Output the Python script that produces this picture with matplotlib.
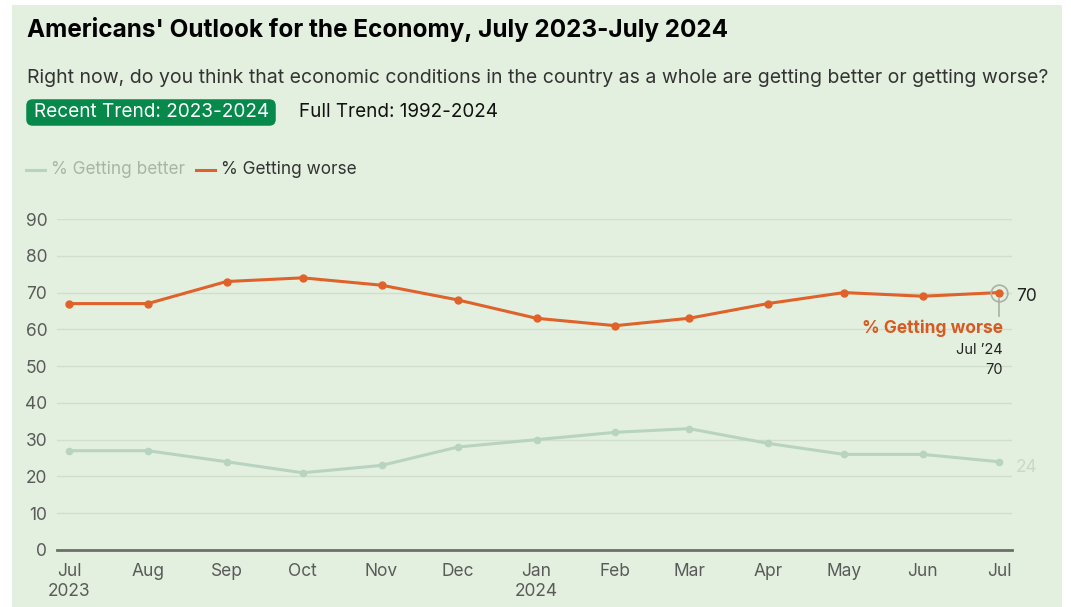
#!/usr/bin/env python3

from datetime import date

import matplotlib.dates as mdates
import matplotlib.pyplot as plt
from matplotlib.patches import FancyBboxPatch, Rectangle

plt.rcParams["font.family"] = ["Inter", "DejaVu Sans"]

months = [
    date(2023, 7, 1), date(2023, 8, 1), date(2023, 9, 1), date(2023, 10, 1),
    date(2023, 11, 1), date(2023, 12, 1), date(2024, 1, 1), date(2024, 2, 1),
    date(2024, 3, 1), date(2024, 4, 1), date(2024, 5, 1), date(2024, 6, 1),
    date(2024, 7, 1),
]
month_labels = [
    "Jul\n2023", "Aug", "Sep", "Oct", "Nov", "Dec", "Jan\n2024",
    "Feb", "Mar", "Apr", "May", "Jun", "Jul",
]
getting_better = [27, 27, 24, 21, 23, 28, 30, 32, 33, 29, 26, 26, 24]
getting_worse = [67, 67, 73, 74, 72, 68, 63, 61, 63, 67, 70, 69, 70]
y_ticks = list(range(0, 100, 10))

W, H = 1071, 607
BG = "#e3f0df"
ORANGE = "#e0622b"
BETTER = "#b8d4c1"
GRID = "#d0dfcc"


def fx(px):
    return px / W


def fy(py):
    return 1 - py / H


fig = plt.figure(figsize=(W / 100, H / 100), dpi=100, facecolor="white")
fig.patches.append(
    Rectangle((fx(12), 0), fx(1062) - fx(12), fy(5), transform=fig.transFigure,
              facecolor=BG, edgecolor="none", zorder=-10)
)

ax = fig.add_axes([fx(57), fy(550), fx(1012) - fx(57), fy(219) - fy(550)])
ax.set_facecolor("none")

ax.plot(months, getting_better, color=BETTER, lw=2.2, marker="o", ms=4.5,
        clip_on=False, zorder=3)
ax.plot(months, getting_worse, color=ORANGE, lw=2.2, marker="o", ms=5,
        clip_on=False, zorder=4)

ax.set_xlim(mdates.date2num(months[0]) - 4.7, mdates.date2num(months[-1]) + 5.1)
ax.set_ylim(0, 90)
ax.set_yticks(y_ticks)
ax.set_xticks(months, month_labels)
ax.grid(axis="y", color=GRID, lw=1.0)
ax.set_axisbelow(True)
for side in ["top", "right", "left"]:
    ax.spines[side].set_visible(False)
ax.spines["bottom"].set_color("#6b6f69")
ax.spines["bottom"].set_linewidth(2)
ax.tick_params(axis="both", length=0, labelsize=12.5, colors="#5a5a5a")
ax.tick_params(axis="y", pad=7)
ax.tick_params(axis="x", pad=9)
for lbl in ax.get_xticklabels():
    lbl.set_linespacing(1.3)

# end-point callouts
last = months[-1]
ax.plot([last], [getting_worse[-1]], marker="o", ms=12, mfc="none",
        mec="#a9b0a8", mew=1.2, clip_on=False, zorder=5)
ax.plot([last, last], [getting_worse[-1] - 1.8, getting_worse[-1] - 6.5],
        color="#a9b0a8", lw=1.2, clip_on=False, zorder=2)
ax.annotate(f"{getting_worse[-1]}", (last, getting_worse[-1]), xytext=(12, -3),
            textcoords="offset points", ha="left", va="center",
            fontsize=12.5, color="#222222", annotation_clip=False)
ax.annotate(f"{getting_better[-1]}", (last, getting_better[-1]), xytext=(12, -4.5),
            textcoords="offset points", ha="left", va="center",
            fontsize=12.5, color="#c9d8c7", annotation_clip=False)
ax.annotate("% Getting worse", (last, getting_worse[-1]), xytext=(3, -26),
            textcoords="offset points", ha="right", va="center",
            fontsize=12.5, fontweight="bold", color="#d65a22",
            annotation_clip=False)
ax.annotate("Jul \u201924", (last, getting_worse[-1]), xytext=(3, -41),
            textcoords="offset points", ha="right", va="center",
            fontsize=10.5, color="#222222", annotation_clip=False)
ax.annotate(f"{getting_worse[-1]}", (last, getting_worse[-1]), xytext=(3, -55.5),
            textcoords="offset points", ha="right", va="center",
            fontsize=10.5, color="#222222", annotation_clip=False)

# header
fig.text(fx(27), fy(30), "Americans' Outlook for the Economy, July 2023-July 2024",
         fontsize=17.5, fontweight="bold", color="black", va="center")
fig.text(fx(27), fy(78),
         "Right now, do you think that economic conditions in the country as a "
         "whole are getting better or getting worse?",
         fontsize=14, color="#333333", va="center")

fig.patches.append(
    FancyBboxPatch((fx(30), fy(122)), fx(272) - fx(30), fy(103) - fy(122),
                   boxstyle="round,pad=0.0035,rounding_size=0.006",
                   transform=fig.transFigure, facecolor="#06894a",
                   edgecolor="none", mutation_aspect=W / H)
)
fig.text(fx(34), fy(112), "Recent Trend: 2023-2024", fontsize=13.7,
         color="white", va="center")
fig.text(fx(299), fy(112), "Full Trend: 1992-2024", fontsize=13.6,
         color="#111111", va="center")

# legend
fig.lines.append(plt.Line2D([fx(26), fx(45)], [fy(170), fy(170)],
                            transform=fig.transFigure, color=BETTER, lw=2.2))
fig.text(fx(51), fy(170), "% Getting better", fontsize=12.4, color="#a9b3a7",
         va="center")
fig.lines.append(plt.Line2D([fx(196), fx(215)], [fy(170), fy(170)],
                            transform=fig.transFigure, color=ORANGE, lw=2.2))
fig.text(fx(221), fy(170), "% Getting worse", fontsize=12.4, color="#333333",
         va="center")

fig.savefig("out.png", dpi=100, facecolor=fig.get_facecolor())
